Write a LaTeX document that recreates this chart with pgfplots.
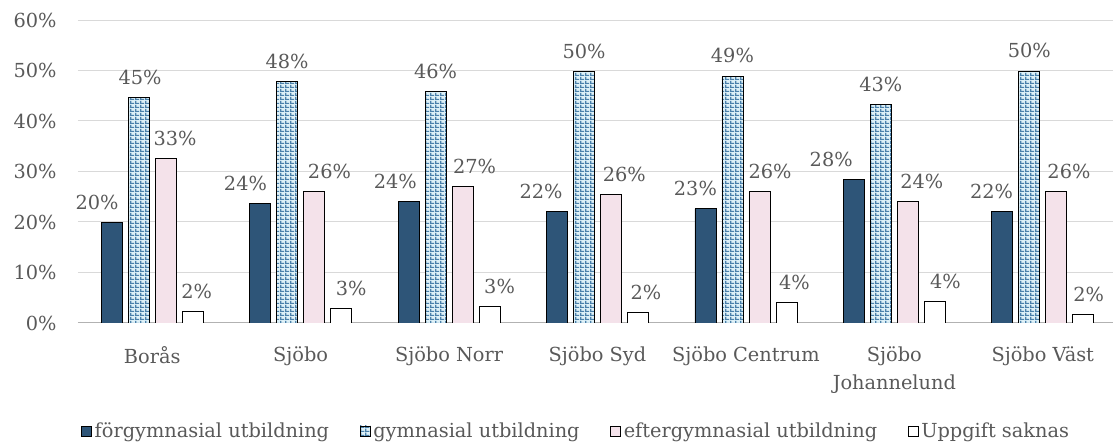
\documentclass[border=0pt]{standalone}
\usepackage{fontspec}
\setmainfont{DejaVu Serif}
\usepackage{pgfplots}
\usepackage{pgfplotstable}
\pgfplotsset{compat=1.18}
\usetikzlibrary{patterns.meta}
\definecolor{dblue}{HTML}{2E5578}
\definecolor{gblue}{HTML}{4A80AA}
\definecolor{lcyan}{HTML}{DDF0F7}
\definecolor{lpink}{HTML}{F4E2EA}
\definecolor{txt}{HTML}{595959}
\definecolor{gridc}{HTML}{D9D9D9}
\tikzdeclarepattern{
  name=bgrid,
  type=uncolored,
  bottom left={(0pt,0pt)},
  top right={(3.75pt,3pt)},
  tile size={(3.75pt,3pt)},
  code={\fill (0pt,0pt) rectangle (3.75pt,1pt); \fill (0pt,0pt) rectangle (1.2pt,3pt);}
}
% x = group, y = percent, dx = label shift (pt)
\pgfplotstableread{
x y dx
0 19.9 -11
1 23.6 -11
2 24.0 -10
3 22.0 -12
4 22.6 -7.5
5 28.4 -17
6 22.0 -8
}\tforgym
\pgfplotstableread{
x y dx
0 44.7 1
1 47.8 0
2 45.8 0
3 49.8 0
4 48.9 0
5 43.3 0
6 49.9 0
}\tgym
\pgfplotstableread{
x y dx
0 32.6 7
1 26.0 11.5
2 27.1 9
3 25.5 10
4 26.0 8
5 24.0 10.5
6 26.0 9.5
}\tefter
\pgfplotstableread{
x y dx
0 2.2 3
1 2.8 7.5
2 3.2 7.5
3 2.1 6
4 4.1 6
5 4.2 8
6 1.7 4
}\tsaknas
\begin{document}
\begin{tikzpicture}[font=\fontsize{14.5}{17}\selectfont]
\useasboundingbox (-58.5pt,-93.75pt) rectangle (776.25pt,242.25pt);
\begin{axis}[
  at={(0,0)}, anchor=south west, scale only axis,
  width=779.25pt, height=227.25pt,
  ybar=4.5pt, bar width=15.75pt,
  xmin=-0.5, xmax=6.5, ymin=0, ymax=60,
  xtick={0,1,2,3,4,5,6},
  xticklabels={Borås,Sjöbo,Sjöbo Norr,Sjöbo Syd,Sjöbo Centrum,{Sjöbo\\Johannelund},Sjöbo Väst},
  ytick={0,10,20,30,40,50,60},
  yticklabel={\pgfmathprintnumber{\tick}\%},
  /pgf/number format/assume math mode=true,
  axis x line*=bottom, axis y line*=left,
  y axis line style={draw=none},
  x axis line style={draw=black!30, line width=0.75pt},
  major tick length=0pt,
  ymajorgrids, grid style={gridc, line width=0.75pt},
  yticklabel style={text=txt, xshift=-12.5pt},
  xticklabel style={text=txt, align=center, yshift=-14pt, font=\fontsize{14.5}{21.2}\selectfont},
  visualization depends on={\thisrow{dx} \as \dx},
  nodes near coords={\pgfmathprintnumber[fixed,precision=0]{\pgfplotspointmeta}\%},
  nodes near coords style={text=txt, yshift=6pt, xshift=\dx pt},
  legend columns=4,
  legend style={draw=none, at={(0.5,0)}, anchor=center, yshift=-81pt, xshift=-15.75pt,
    text=txt, /tikz/every even column/.append style={column sep=21pt}},
  legend image code/.code={\draw[#1, line width=0.6pt] (0pt,-3.75pt) rectangle (7.5pt,3.75pt);},
]
\addplot[fill=dblue, draw=black, line width=0.6pt] table[x=x, y=y] {\tforgym};
\addplot[fill=lcyan, postaction={pattern=bgrid, pattern color=gblue}, draw=black, line width=0.6pt] table[x=x, y=y] {\tgym};
\addplot[fill=lpink, draw=black, line width=0.6pt] table[x=x, y=y] {\tefter};
\addplot[fill=white, draw=black, line width=0.6pt] table[x=x, y=y] {\tsaknas};
\legend{förgymnasial utbildning, gymnasial utbildning, eftergymnasial utbildning, Uppgift saknas}
\end{axis}
\end{tikzpicture}
\end{document}
